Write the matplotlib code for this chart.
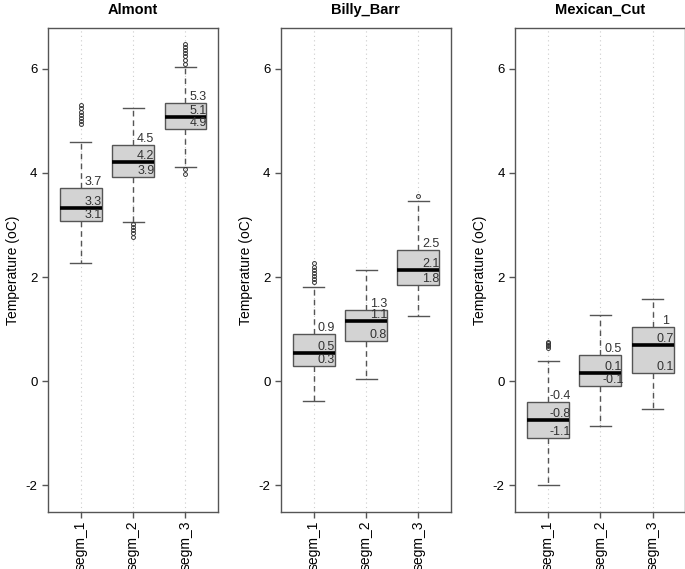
import numpy as np
import matplotlib.pyplot as plt

plt.rcParams['font.family'] = ['Liberation Sans', 'DejaVu Sans']

# ---------------------------------------------------------------
# data (Temperature, oC)
# ---------------------------------------------------------------
sites = ['Almont', 'Billy_Barr', 'Mexican_Cut']
segments = ['segm_1', 'segm_2', 'segm_3']

# per site: one value for each segment
whislo = [[2.26, 3.06, 4.12], [-0.38, 0.03, 1.25], [-2.00, -0.86, -0.53]]
q1 = [[3.08, 3.93, 4.85], [0.28, 0.77, 1.85], [-1.09, -0.10, 0.15]]
med = [[3.32, 4.22, 5.07], [0.54, 1.16, 2.14], [-0.75, 0.16, 0.69]]
q3 = [[3.72, 4.53, 5.34], [0.91, 1.36, 2.51], [-0.41, 0.51, 1.03]]
whishi = [[4.60, 5.24, 6.04], [1.81, 2.14, 3.47], [0.39, 1.26, 1.58]]

outliers = [
    [[5.31, 5.24, 5.18, 5.12, 5.06, 5.00, 4.95],
     [3.02, 2.96, 2.90, 2.84, 2.77],
     [6.48, 6.42, 6.36, 6.30, 6.24, 6.17, 6.10, 4.08, 3.98]],
    [[2.27, 2.20, 2.14, 2.08, 2.02, 1.96, 1.91],
     [],
     [3.55]],
    [[0.76, 0.73, 0.70, 0.67, 0.64],
     [],
     []],
]

# printed labels (rounded Q3, median, Q1)
lab_q3 = [['3.7', '4.5', '5.3'], ['0.9', '1.3', '2.5'], ['-0.4', '0.5', '1']]
lab_med = [['3.3', '4.2', '5.1'], ['0.5', '1.1', '2.1'], ['-0.8', '0.1', '0.7']]
lab_q1 = [['3.1', '3.9', '4.9'], ['0.3', '0.8', '1.8'], ['-1.1', '-0.1', '0.1']]

yticks = [-2, 0, 2, 4, 6]

# ---------------------------------------------------------------
# plot
# ---------------------------------------------------------------
fig = plt.figure(figsize=(6.85, 5.69), dpi=100)
lefts = [0.070, 0.410, 0.752]
edge = '#555555'

for i, site in enumerate(sites):
    ax = fig.add_axes([lefts[i], 0.100, 0.248, 0.851])
    pos = np.arange(1, len(segments) + 1)

    stats = []
    for j in range(len(segments)):
        stats.append(dict(whislo=whislo[i][j], q1=q1[i][j], med=med[i][j],
                          q3=q3[i][j], whishi=whishi[i][j],
                          fliers=outliers[i][j]))

    for p in pos:
        ax.axvline(p, color='#cccccc', lw=0.8, ls=(0, (1, 3)), zorder=0)

    ax.bxp(stats, positions=pos, widths=0.8, patch_artist=True,
           showfliers=True,
           boxprops=dict(facecolor='#d3d3d3', edgecolor=edge, lw=1.0),
           medianprops=dict(color='black', lw=2.6, solid_capstyle='butt'),
           whiskerprops=dict(color=edge, lw=1.0, ls=(0, (4, 3))),
           capprops=dict(color=edge, lw=1.0),
           capwidths=0.4,
           flierprops=dict(marker='o', markersize=2.8, markerfacecolor='none',
                           markeredgecolor='#333333', markeredgewidth=0.7))

    for j, p in enumerate(pos):
        xt = p + 0.24
        ax.text(xt, q3[i][j], lab_q3[i][j], ha='center', va='bottom',
                fontsize=9, color='#333333')
        ax.text(xt, med[i][j], lab_med[i][j], ha='center', va='bottom',
                fontsize=9, color='#333333')
        ax.text(xt, q1[i][j], lab_q1[i][j], ha='center', va='bottom',
                fontsize=9, color='#333333')

    ax.set_xlim(0.37, 3.62)
    ax.set_ylim(-2.52, 6.79)
    ax.set_xticks(pos)
    ax.set_xticklabels(segments, rotation=90, fontsize=10)
    ax.set_yticks(yticks)
    ax.set_yticklabels([str(t) for t in yticks], fontsize=9.5)
    ax.set_ylabel('Temperature (oC)', fontsize=10)
    ax.set_title(site, fontsize=10.5, fontweight='bold', pad=10)
    for s in ax.spines.values():
        s.set_color(edge)
        s.set_linewidth(1.0)
    ax.tick_params(colors=edge, labelcolor='black', length=4, width=1.0)
    ax.tick_params(axis='x', pad=2)

fig.savefig('out.png')
